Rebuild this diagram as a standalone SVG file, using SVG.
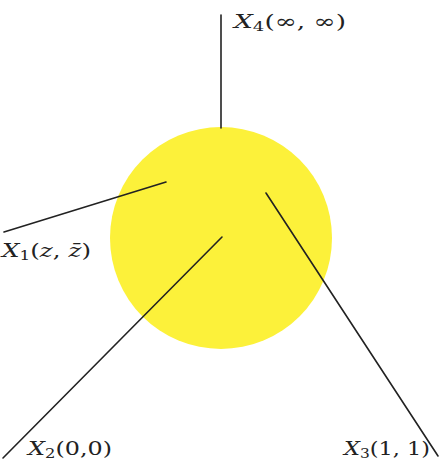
<svg xmlns="http://www.w3.org/2000/svg" width="443" height="462" viewBox="0 0 443 462">
<style>
.ln{stroke:#222;stroke-width:1.6;fill:none;stroke-linecap:round}
.lb{font-family:"DejaVu Serif","Liberation Serif",serif;font-size:19px;fill:#222}
.it{font-style:italic}
.sub{font-size:13px}
</style>
<rect width="443" height="462" fill="#fff"/>
<g id="sphere"><circle cx="221" cy="238" r="111" fill="#fcf13a"/></g>
<g id="connectors">
<line class="ln" x1="221" y1="15" x2="221" y2="128"/>
<line class="ln" x1="166" y1="182" x2="4" y2="232"/>
<line class="ln" x1="222" y1="237" x2="3" y2="458"/>
<line class="ln" x1="266" y1="193" x2="438" y2="456"/>
</g>
<g id="X4"><text class="lb" x="234" y="28" textLength="112" lengthAdjust="spacingAndGlyphs"><tspan class="it">X</tspan><tspan class="sub" dy="3">4</tspan><tspan dy="-3">(∞, ∞)</tspan></text></g>
<g id="X1"><text class="lb" x="2" y="257" textLength="89" lengthAdjust="spacingAndGlyphs"><tspan class="it">X</tspan><tspan class="sub" dy="3">1</tspan><tspan dy="-3">(</tspan><tspan class="it">z</tspan><tspan>, </tspan><tspan class="it">z̄</tspan><tspan>)</tspan></text></g>
<g id="X2"><text class="lb" x="28" y="455" textLength="84" lengthAdjust="spacingAndGlyphs"><tspan class="it">X</tspan><tspan class="sub" dy="3">2</tspan><tspan dy="-3">(0,0)</tspan></text></g>
<g id="X3"><text class="lb" x="344" y="455" textLength="86" lengthAdjust="spacingAndGlyphs"><tspan class="it">X</tspan><tspan class="sub" dy="3">3</tspan><tspan dy="-3">(1, 1)</tspan></text></g>
</svg>
